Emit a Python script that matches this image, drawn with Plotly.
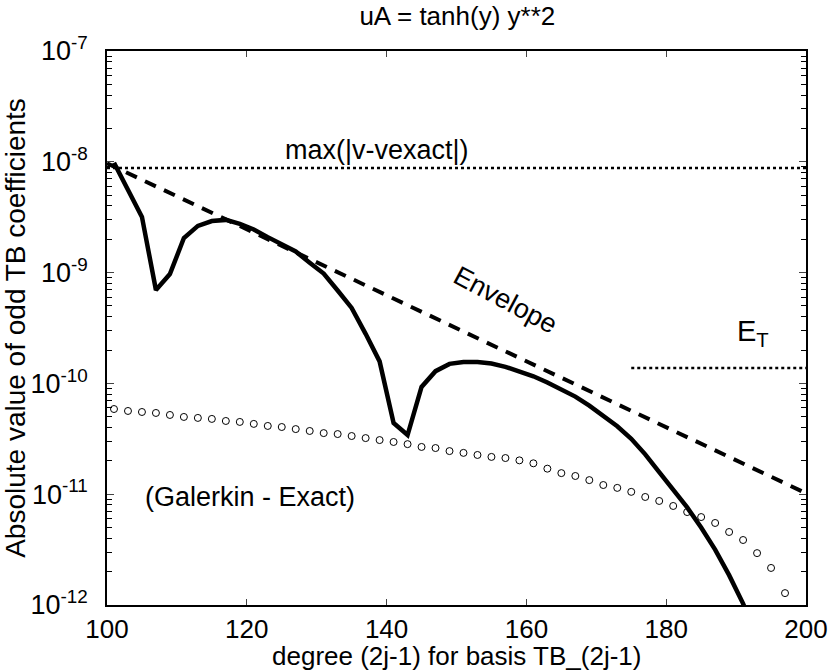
import plotly.graph_objects as go

# ---- data ----
degrees_solid = [101, 103, 105, 107, 109, 111, 113, 115, 117, 119, 121, 123, 125, 127, 129,
                 131, 133, 135, 137, 139, 141, 143, 145, 147, 149, 151, 153, 155, 157, 159,
                 161, 163, 165, 167, 169, 171, 173, 175, 177, 179, 181, 183, 185, 187, 189,
                 191, 193]
tb_coeffs = [9.8e-9, 5.6e-9, 3.18e-9, 6.97e-10, 9.7e-10, 2.05e-9, 2.64e-9, 2.92e-9, 2.99e-9,
             2.75e-9, 2.45e-9, 2.09e-9, 1.82e-9, 1.55e-9, 1.23e-9, 9.8e-10, 6.9e-10, 4.8e-10,
             2.8e-10, 1.58e-10, 4.4e-11, 3.42e-11, 9.3e-11, 1.29e-10, 1.50e-10, 1.56e-10,
             1.56e-10, 1.51e-10, 1.41e-10, 1.29e-10, 1.16e-10, 1.02e-10, 8.9e-11, 7.6e-11,
             6.3e-11, 5.1e-11, 4.1e-11, 3.16e-11, 2.29e-11, 1.58e-11, 1.10e-11, 7.6e-12,
             5.0e-12, 3.16e-12, 1.86e-12, 1.03e-12, 5.0e-13]

degrees_circ = [101, 103, 105, 107, 109, 111, 113, 115, 117, 119, 121, 123, 125, 127, 129,
                131, 133, 135, 137, 139, 141, 143, 145, 147, 149, 151, 153, 155, 157, 159,
                161, 163, 165, 167, 169, 171, 173, 175, 177, 179, 181, 183, 185, 187, 189,
                191, 193, 195, 197]
galerkin_minus_exact = [5.87e-11, 5.64e-11, 5.52e-11, 5.41e-11, 5.19e-11, 4.98e-11, 4.88e-11,
                        4.78e-11, 4.58e-11, 4.49e-11, 4.31e-11, 4.13e-11, 4.04e-11, 3.87e-11,
                        3.72e-11, 3.56e-11, 3.49e-11, 3.35e-11, 3.21e-11, 3.08e-11, 2.96e-11,
                        2.83e-11, 2.67e-11, 2.61e-11, 2.45e-11, 2.36e-11, 2.26e-11, 2.17e-11,
                        2.12e-11, 2.02e-11, 1.90e-11, 1.70e-11, 1.55e-11, 1.46e-11, 1.34e-11,
                        1.21e-11, 1.14e-11, 1.05e-11, 9.44e-12, 8.69e-12, 7.83e-12, 6.90e-12,
                        6.22e-12, 5.50e-12, 4.56e-12, 3.86e-12, 2.94e-12, 2.16e-12, 1.28e-12]

envelope_x = [100, 200]
envelope_y = [9.7e-9, 1.02e-11]

maxerr_x = [100, 200]
maxerr_y = [8.8e-9, 8.8e-9]

et_x = [175, 200]
et_y = [1.38e-10, 1.38e-10]

x_ticks = [100, 120, 140, 160, 180, 200]
y_ticks = [1e-12, 1e-11, 1e-10, 1e-9, 1e-8, 1e-7]
y_ticktext = ["10<sup>-12</sup>", "10<sup>-11</sup>", "10<sup>-10</sup>",
              "10<sup>-9</sup>", "10<sup>-8</sup>", "10<sup>-7</sup>"]

FONT = "Liberation Sans, Arial, Helvetica, sans-serif"

minor_vals = [m * d for d in y_ticks[:-1] for m in range(2, 10)]

fig = go.Figure()

fig.add_trace(go.Scatter(x=maxerr_x, y=maxerr_y, mode="lines",
                         line=dict(color="black", width=2.5, dash="dot"),
                         showlegend=False, hoverinfo="skip"))
fig.add_trace(go.Scatter(x=et_x, y=et_y, mode="lines",
                         line=dict(color="black", width=2.5, dash="dot"),
                         showlegend=False, hoverinfo="skip"))
fig.add_trace(go.Scatter(x=envelope_x, y=envelope_y, mode="lines",
                         line=dict(color="black", width=4, dash="12px,9px"),
                         showlegend=False))
fig.add_trace(go.Scatter(x=degrees_solid, y=tb_coeffs, mode="lines",
                         line=dict(color="black", width=4.5),
                         showlegend=False))
fig.add_trace(go.Scatter(x=degrees_circ, y=galerkin_minus_exact, mode="markers",
                         marker=dict(symbol="circle-open", size=7, color="black",
                                     line=dict(width=1, color="black")),
                         showlegend=False))

annots = [
    dict(x=138.6, y=-7.894, text="max(|v-vexact|)", font=dict(size=27)),
    dict(x=157.0, y=-9.25, text="Envelope", font=dict(size=27), textangle=28),
    dict(x=192.4, y=-9.545, text="E<sub>T</sub>", font=dict(size=29)),
    dict(x=120.4, y=-11.025, text="(Galerkin - Exact)", font=dict(size=27)),
]
for a in annots:
    a.update(xref="x", yref="y", showarrow=False)
    a["font"].update(family=FONT, color="black")
    fig.add_annotation(**a)

# x-axis title placed just under the tick labels
fig.add_annotation(x=0.5, y=-0.092, xref="paper", yref="paper", showarrow=False,
                   xanchor="center", yanchor="middle",
                   text="degree (2j-1) for basis TB_(2j-1)",
                   font=dict(size=26, family=FONT, color="black"))

fig.update_layout(
    width=833, height=671,
    margin=dict(l=107, r=27, t=51, b=66),
    paper_bgcolor="white", plot_bgcolor="white",
    font=dict(family=FONT, color="black"),
    title=dict(text="uA = tanh(y) y**2", x=0.549, xanchor="center",
               xref="container", yref="container", y=0.976, yanchor="middle",
               font=dict(size=26, family=FONT)),
    showlegend=False,
)
fig.update_xaxes(range=[100, 200], tickvals=x_ticks, ticks="inside", ticklen=6,
                 showline=True, linecolor="black", linewidth=1.5, mirror="ticks",
                 showgrid=False, zeroline=False, tickfont=dict(size=26),
                 ticklabelstandoff=0, automargin=False)
fig.update_yaxes(type="log", range=[-12, -7], tickmode="array", tickvals=y_ticks,
                 ticktext=y_ticktext,
                 ticks="inside", ticklen=7,
                 minor=dict(ticks="inside", ticklen=5, tickwidth=1.2, tickmode="array",
                            tickvals=minor_vals, tickcolor="black", showgrid=False),
                 showline=True, linecolor="black", linewidth=1.5, mirror="ticks",
                 showgrid=False, zeroline=False, tickfont=dict(size=27),
                 ticklabelstandoff=12, automargin=False,
                 title=dict(text="Absolute value of odd TB coefficients", font=dict(size=28), standoff=4))

fig.write_html("out.html", config={"displayModeBar": False},
               post_script="document.body.style.margin='0px';")
